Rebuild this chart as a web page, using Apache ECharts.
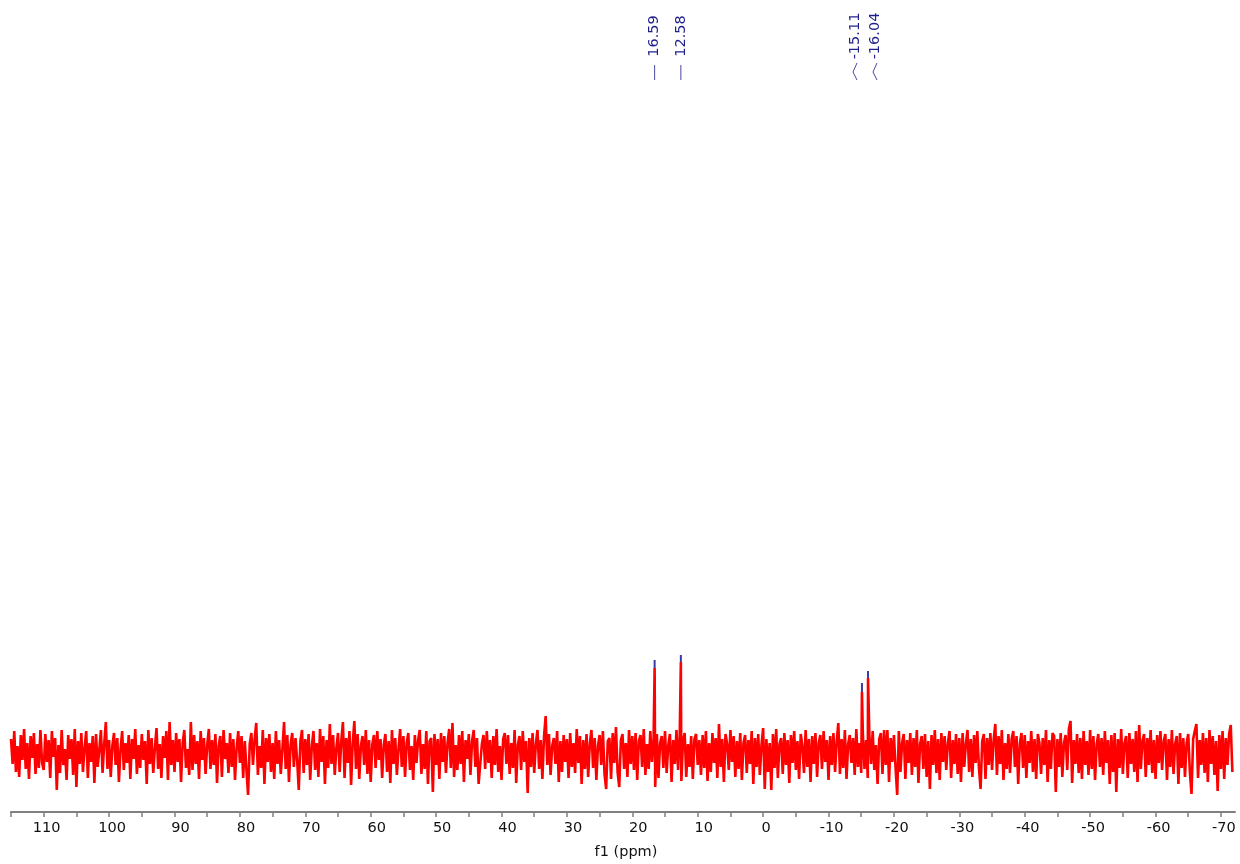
<!DOCTYPE html>
<html>
<head>
<meta charset="utf-8">
<script src="https://cdn.jsdelivr.net/npm/echarts@6/dist/echarts.min.js"></script>
<style>
html,body{margin:0;padding:0;background:#fff;}
#chart{width:1240px;height:864px;}
</style>
</head>
<body>
<div id="chart"></div>
<script>
// ---- data ----
const ppmStart = 115.0;      // chemical shift of first noise sample
const ppmStep = 0.25;        // sample spacing (ppm)
const noise = [
15,-10,23,-18,8,-23,19,-6,25,-15,11,-25,18,-4,21,-20,10,-14,24,-9,
-16,20,-8,14,-24,23,-3,16,-36,9,-19,24,-11,5,-26,19,-5,15,-21,25,
-33,13,-10,21,-18,6,23,-24,11,-8,18,-29,20,-13,4,24,-19,10,32,-15,
14,-23,8,21,-11,16,-28,5,23,-16,11,-9,19,-25,15,-5,25,-20,9,-14,
20,-6,13,-30,24,-10,16,-19,6,26,-15,10,-24,18,-4,23,-26,32,-11,14,
-18,21,-8,15,-28,11,24,-14,5,-21,32,-16,19,-10,13,-25,23,-6,16,-20,
9,25,-15,14,-11,20,-29,8,18,-23,24,-5,11,-19,21,-13,15,-26,6,23,
-9,18,-24,13,-16,-41,10,21,-11,15,31,-21,8,-14,24,-30,16,-8,20,-18,
11,-25,23,-10,14,-20,5,32,-15,19,-28,9,21,-13,16,-6,-36,13,24,-19,
15,-11,20,-26,8,23,-16,11,-23,25,-8,18,-30,14,-14,30,-10,19,-21,6,
21,-18,13,32,-24,16,-9,23,-31,11,33,-15,20,-25,8,18,-11,24,-20,14,
-28,10,19,-14,23,-6,15,-24,9,20,-18,13,-29,24,-10,16,-21,5,25,-13,
18,-23,11,21,-16,8,-26,19,-9,14,24,-20,10,-15,23,-30,13,16,-38,20,
-11,15,-25,21,-8,18,-19,11,25,-14,31,-23,9,-16,19,-10,23,-28,14,-5,
20,-21,13,24,-13,16,-30,-31,10,19,-15,23,-9,14,-24,18,-11,25,-18,8,
-26,15,21,-10,19,-20,11,-14,24,-29,9,18,-16,23,-8,13,-39,16,-13,21,
-19,10,24,-15,14,-25,18,38,-11,20,-21,8,16,-10,23,-28,13,-18,19,-8,
15,-24,21,-13,11,-19,25,-9,18,-30,14,-15,20,-23,10,24,-14,16,-26,8,
19,-11,23,-20,-35,13,16,-25,21,-9,27,-18,-33,14,20,-15,11,-23,24,-10,
18,-16,21,-26,13,19,-13,25,-21,10,-15,23,-8,15,-33,20,-24,11,18,-14,
23,-19,9,20,-28,14,-10,24,-16,19,-27,13,21,-23,10,-13,18,-25,15,20,
-11,14,-21,19,-14,23,-27,11,-18,21,-9,16,-24,30,-13,15,-28,20,10,-16,
24,-8,18,-23,13,-15,21,-26,11,19,-19,14,-10,23,-30,16,-13,20,-21,9,
26,-35,15,-18,11,-36,20,-14,25,-24,10,16,-20,21,-11,14,-29,19,-9,23,
-16,13,-25,20,8,-19,24,-13,15,-28,18,-10,21,-23,11,19,-15,23,-8,14,
-26,18,-11,21,-18,13,31,-20,15,-14,24,-25,10,19,-9,16,-21,25,-13,11,
-19,20,-15,14,-24,18,-10,23,-16,9,-30,15,21,-20,24,-11,24,-28,16,-8,
19,-14,-41,23,-18,11,20,-25,14,-9,21,-21,16,-13,24,-29,10,18,-15,20,
-23,13,-35,19,-11,24,-19,15,-26,21,-8,18,-16,11,23,-24,14,-10,20,-20,
16,-28,21,-13,10,24,-18,15,-23,19,-9,23,-14,-35,13,20,-25,16,-11,21,
-16,14,30,-21,18,-10,24,-26,11,-15,20,-19,15,23,-13,18,-30,10,21,-14,
19,-24,13,-9,23,-18,15,-25,20,11,-20,16,-11,24,-28,14,-15,21,18,-38,
15,-13,21,-23,11,19,-16,25,33,-29,14,-10,20,-19,16,-25,23,-11,13,-21,
24,-15,18,-26,10,20,-13,16,-21,23,-9,14,-30,19,-18,21,-38,15,-14,25,
-20,11,18,-24,21,-10,15,-18,23,-28,29,-15,13,20,-23,16,-11,24,-19,14,
-25,19,-9,23,-16,13,20,-26,15,-13,24,-20,10,18,-30,21,-14,16,-23,11,
20,-18,-40,15,23,30,-24,14,-11,21,-19,16,-28,24,-10,18,-21,13,-37,19,
-15,23,-25,16,-11,20,29,-18
];
const peakPpm = [16.59, 12.58, -15.11, -16.04];
const peakHeight = [86, 92, 62, 76];     // top of red peak line
const peakTipTop = [94, 99, 71, 83];     // top of blue peak-pick mark
const peakLabels = ['16.59', '12.58', '-15.11', '-16.04'];
const tickValues = [115,110,105,100,95,90,85,80,75,70,65,60,55,50,45,40,35,30,25,20,15,10,5,0,-5,-10,-15,-20,-25,-30,-35,-40,-45,-50,-55,-60,-65,-70];
const labelValues = [110,100,90,80,70,60,50,40,30,20,10,0,-10,-20,-30,-40,-50,-60,-70];
const axisTitle = 'f1 (ppm)';

// ---- build spectrum ----
const spectrum = noise.map((v, i) => [ppmStart - i * ppmStep, v]);
peakPpm.forEach((p, i) => spectrum.push([p, peakHeight[i]]));
spectrum.sort((a, b) => b[0] - a[0]);
const tips = peakPpm.map((p, i) => [p, peakHeight[i], peakTipTop[i]]);

const chart = echarts.init(document.getElementById('chart'), null, {renderer: 'canvas'});
const FONT = '"DejaVu Sans", Verdana, sans-serif';
chart.setOption({
  animation: false,
  backgroundColor: '#fff',
  grid: {left: 11, right: 5, top: 90, bottom: 52, outerBoundsMode: 'none', containLabel: false},
  xAxis: {
    type: 'value', inverse: true, min: -72.15, max: 115.0,
    axisLine: {show: true, onZero: false, lineStyle: {color: '#808080', width: 2}},
    axisTick: {show: true, length: 5, customValues: tickValues, lineStyle: {color: '#808080', width: 1.5}},
    axisLabel: {
      customValues: labelValues, margin: 9, color: '#111', fontFamily: FONT, fontSize: 14.5,
      formatter: v => { const s = String(v); return s.length === 2 ? '{a|' + s + '}' : '{b|' + s + '}'; },
      rich: {
        a: {padding: [0, 0, 0, 12], fontFamily: FONT, fontSize: 14.5, color: '#111'},
        b: {padding: [0, 0, 0, 6], fontFamily: FONT, fontSize: 14.5, color: '#111'}
      }
    },
    splitLine: {show: false},
    name: axisTitle, nameLocation: 'middle', nameGap: 33,
    nameTextStyle: {color: '#111', fontFamily: FONT, fontSize: 14.5, padding: [0, 0, 0, 6]}
  },
  yAxis: {type: 'value', min: -58, max: 664, show: false, splitLine: {show: false}},
  series: [
    {
      type: 'line', data: spectrum, showSymbol: false, symbol: 'none', sampling: null,
      lineStyle: {color: '#ff0000', width: 2.6, join: 'bevel'}, z: 2
    },
    {
      type: 'custom', data: tips, encode: {x: 0, y: 1}, z: 3,
      renderItem: (params, api) => {
        const a = api.coord([api.value(0), api.value(1)]);
        const b = api.coord([api.value(0), api.value(2)]);
        return {type: 'line', shape: {x1: a[0], y1: a[1], x2: b[0], y2: b[1]},
                style: {stroke: '#3a3aa0', lineWidth: 2}};
      }
    }
  ]
});

// ---- peak labels at top ----
const px = peakPpm.map(p => chart.convertToPixel({xAxisIndex: 0}, p));
const lx = px.slice();
const minSep = 20;
for (let i = 0; i < lx.length - 1; i++) {
  if (Math.abs(px[i + 1] - px[i]) < minSep) {
    const m = (px[i] + px[i + 1]) / 2;
    lx[i] = m - minSep / 2; lx[i + 1] = m + minSep / 2;
  }
}
const g = [];
peakLabels.forEach((t, i) => {
  g.push({type: 'text', x: lx[i], y: 36, rotation: Math.PI / 2, z: 10,
    style: {text: t, fill: '#1e1e8c', font: '14.5px ' + FONT, align: 'center', verticalAlign: 'middle'}});
  if (lx[i] === px[i]) {
    g.push({type: 'line', z: 10, shape: {x1: px[i], y1: 65, x2: px[i], y2: 80},
      style: {stroke: '#4a4a9e', lineWidth: 1}});
  } else {
    g.push({type: 'polyline', z: 10, shape: {points: [[lx[i] + 2, 63], [lx[i] - 2, 72], [lx[i] + 2, 80]]},
      style: {stroke: '#4a4a9e', lineWidth: 1, fill: null}});
  }
});
g.push({type: 'rect', z: 20, shape: {x: 1235, y: 818, width: 10, height: 26}, style: {fill: '#fff'}});
chart.setOption({graphic: g});
</script>
</body>
</html>
